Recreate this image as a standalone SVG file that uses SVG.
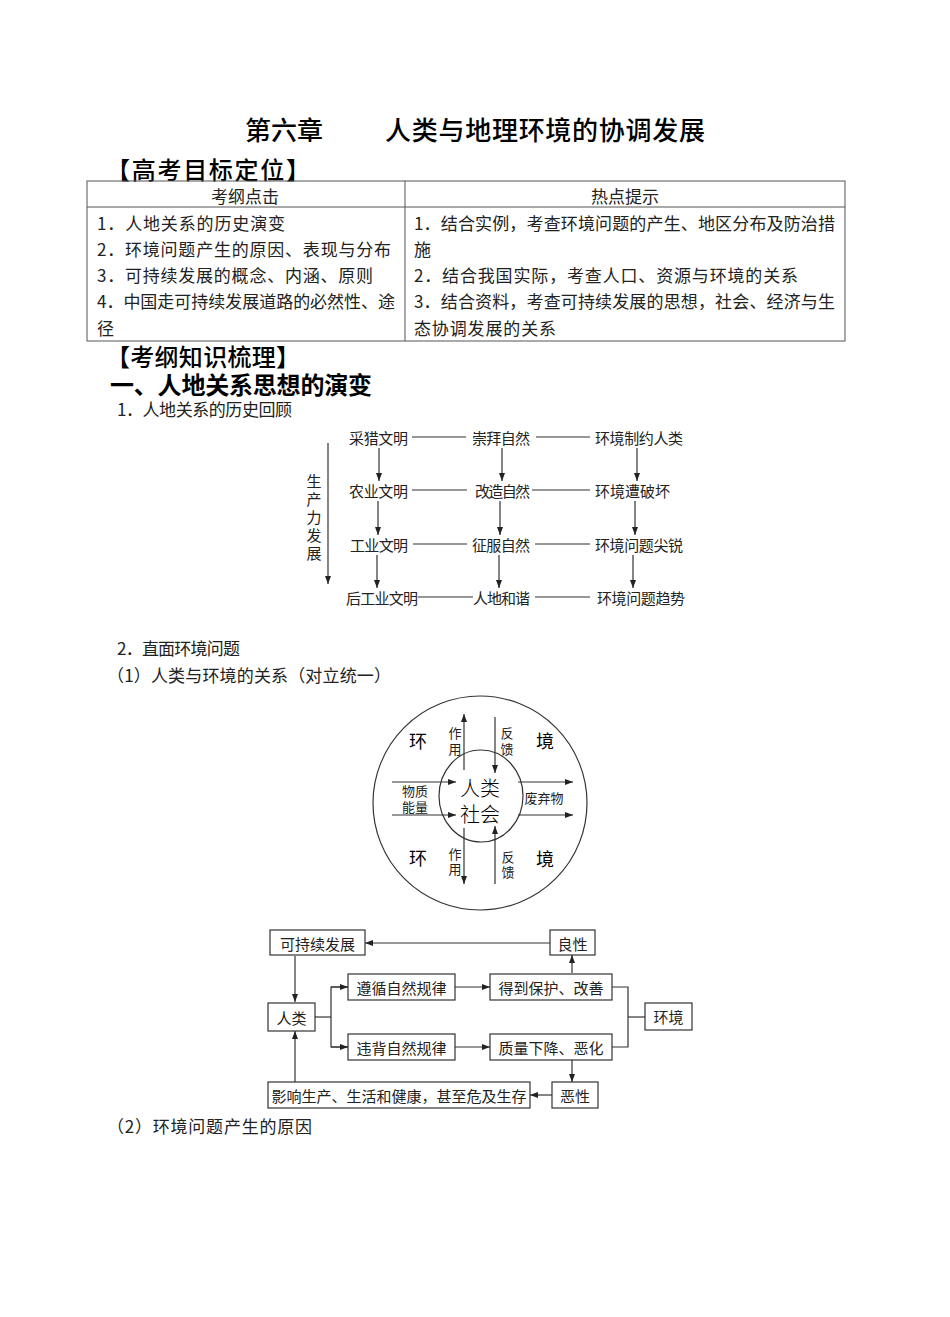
<svg xmlns="http://www.w3.org/2000/svg" width="950" height="1317" viewBox="0 0 950 1317">
<defs>
<style>
.h{font-family:"Noto Sans CJK SC","Liberation Sans",sans-serif;fill:#000}
.t{font-family:"Noto Sans CJK SC","Liberation Serif",serif;fill:#222;font-size:17px}
.d{font-family:"Noto Sans CJK SC","Liberation Sans",sans-serif;fill:#222;font-size:15px}
.s{font-family:"Noto Sans CJK SC","Liberation Sans",sans-serif;fill:#222;font-size:13px}
.ln{stroke:#333;stroke-width:1.2;fill:none}
.bx{stroke:#333;stroke-width:1.2;fill:#fff}
.tb{stroke:#555;stroke-width:1;fill:none}
</style>
<marker id="a" viewBox="0 0 8 6" refX="8" refY="3" markerWidth="8" markerHeight="6" markerUnits="userSpaceOnUse" orient="auto"><path d="M0,0 L8,3 L0,6 z" fill="#222"/></marker>
</defs>
<rect width="950" height="1317" fill="#fff"/>

<g id="title">
<text class="h" x="245" y="128" font-size="26" font-weight="500" dominant-baseline="central" textLength="78">第六章</text>
<text class="h" x="385" y="128" font-size="26" font-weight="500" dominant-baseline="central" textLength="320">人类与地理环境的协调发展</text>
<text class="h" x="106" y="168" font-size="24" font-weight="500" dominant-baseline="central" textLength="204">【高考目标定位】</text>
</g>

<g id="table">
<rect class="tb" x="87" y="181" width="758" height="160"/>
<line class="tb" x1="87" y1="207" x2="845" y2="207"/>
<line class="tb" x1="405" y1="181" x2="405" y2="341"/>
<text class="t" x="245" y="195" text-anchor="middle" dominant-baseline="central">考纲点击</text>
<text class="t" x="625" y="195" text-anchor="middle" dominant-baseline="central">热点提示</text>
<text class="t" x="97" y="222" dominant-baseline="central" textLength="188">1．人地关系的历史演变</text>
<text class="t" x="97" y="248" dominant-baseline="central" textLength="294">2．环境问题产生的原因、表现与分布</text>
<text class="t" x="97" y="274" dominant-baseline="central" textLength="276">3．可持续发展的概念、内涵、原则</text>
<text class="t" x="97" y="300" dominant-baseline="central" textLength="298">4．中国走可持续发展道路的必然性、途</text>
<text class="t" x="97" y="327" dominant-baseline="central">径</text>
<text class="t" x="414" y="222" dominant-baseline="central" textLength="421">1．结合实例，考查环境问题的产生、地区分布及防治措</text>
<text class="t" x="414" y="248" dominant-baseline="central">施</text>
<text class="t" x="414" y="274" dominant-baseline="central" textLength="384">2．结合我国实际，考查人口、资源与环境的关系</text>
<text class="t" x="414" y="300" dominant-baseline="central" textLength="421">3．结合资料，考查可持续发展的思想，社会、经济与生</text>
<text class="t" x="414" y="327" dominant-baseline="central" textLength="142">态协调发展的关系</text>
</g>

<g id="headings">
<text class="h" x="106" y="355" font-size="24" font-weight="500" dominant-baseline="central" textLength="194">【考纲知识梳理】</text>
<text class="h" x="110" y="383" font-size="24" font-weight="bold" dominant-baseline="central" textLength="262">一、人地关系思想的演变</text>
<text class="t" x="117" y="408" dominant-baseline="central" textLength="175">1．人地关系的历史回顾</text>
<text class="t" x="117" y="647" dominant-baseline="central" textLength="123">2．直面环境问题</text>
<text class="t" x="107" y="674" dominant-baseline="central" textLength="284">（1）人类与环境的关系（对立统一）</text>
<text class="t" x="107" y="1125" dominant-baseline="central" textLength="205">（2）环境问题产生的原因</text>
</g>

<g id="history-nodes">
<text class="d" x="349" y="437" dominant-baseline="central" textLength="59">采猎文明</text>
<text class="d" x="472" y="437" dominant-baseline="central" textLength="58">崇拜自然</text>
<text class="d" x="595" y="437" dominant-baseline="central" textLength="88">环境制约人类</text>
<text class="d" x="349" y="490" dominant-baseline="central" textLength="59">农业文明</text>
<text class="d" x="475" y="490" dominant-baseline="central" textLength="55">改造自然</text>
<text class="d" x="595" y="490" dominant-baseline="central" textLength="75">环境遭破坏</text>
<text class="d" x="350" y="544" dominant-baseline="central" textLength="58">工业文明</text>
<text class="d" x="472" y="544" dominant-baseline="central" textLength="58">征服自然</text>
<text class="d" x="595" y="544" dominant-baseline="central" textLength="88">环境问题尖锐</text>
<text class="d" x="346" y="597" dominant-baseline="central" textLength="72">后工业文明</text>
<text class="d" x="473" y="597" dominant-baseline="central" textLength="57">人地和谐</text>
<text class="d" x="597" y="597" dominant-baseline="central" textLength="88">环境问题趋势</text>
<g class="d" text-anchor="middle">
<text x="314" y="480" dominant-baseline="central">生</text>
<text x="314" y="498" dominant-baseline="central">产</text>
<text x="314" y="516" dominant-baseline="central">力</text>
<text x="314" y="534" dominant-baseline="central">发</text>
<text x="314" y="552" dominant-baseline="central">展</text>
</g>
</g>

<g id="history-connectors">
<line class="ln" x1="412" y1="437" x2="466" y2="437"/>
<line class="ln" x1="536" y1="437" x2="590" y2="437"/>
<line class="ln" x1="412" y1="490" x2="467" y2="490"/>
<line class="ln" x1="532" y1="490" x2="590" y2="490"/>
<line class="ln" x1="413" y1="544" x2="467" y2="544"/>
<line class="ln" x1="535" y1="544" x2="590" y2="544"/>
<line class="ln" x1="418" y1="597" x2="473" y2="597"/>
<line class="ln" x1="535" y1="597" x2="590" y2="597"/>
<line class="ln" x1="379" y1="448" x2="379" y2="481" marker-end="url(#a)"/>
<line class="ln" x1="502" y1="448" x2="502" y2="481" marker-end="url(#a)"/>
<line class="ln" x1="637" y1="448" x2="637" y2="481" marker-end="url(#a)"/>
<line class="ln" x1="378" y1="501" x2="378" y2="535" marker-end="url(#a)"/>
<line class="ln" x1="500" y1="501" x2="500" y2="535" marker-end="url(#a)"/>
<line class="ln" x1="635" y1="501" x2="635" y2="535" marker-end="url(#a)"/>
<line class="ln" x1="377" y1="555" x2="377" y2="588" marker-end="url(#a)"/>
<line class="ln" x1="499" y1="555" x2="499" y2="588" marker-end="url(#a)"/>
<line class="ln" x1="633" y1="555" x2="633" y2="588" marker-end="url(#a)"/>
<line class="ln" x1="328" y1="443" x2="328" y2="584" marker-end="url(#a)"/>
</g>

<g id="circle-diagram">
<circle class="ln" cx="480" cy="803" r="107"/>
<ellipse class="ln" cx="481" cy="796" rx="42" ry="46"/>
<text class="h" x="418" y="740" font-size="18" text-anchor="middle" dominant-baseline="central">环</text>
<text class="h" x="545" y="740" font-size="18" text-anchor="middle" dominant-baseline="central">境</text>
<text class="h" x="418" y="857" font-size="18" text-anchor="middle" dominant-baseline="central">环</text>
<text class="h" x="545" y="858" font-size="18" text-anchor="middle" dominant-baseline="central">境</text>
<text class="h" x="480" y="787" font-size="20" font-weight="300" text-anchor="middle" dominant-baseline="central">人类</text>
<text class="h" x="480" y="813" font-size="20" font-weight="300" text-anchor="middle" dominant-baseline="central">社会</text>
<text class="s" x="415" y="790" text-anchor="middle" dominant-baseline="central">物质</text>
<text class="s" x="415" y="806" text-anchor="middle" dominant-baseline="central">能量</text>
<text class="s" x="544" y="797" text-anchor="middle" dominant-baseline="central">废弃物</text>
<text class="s" x="455" y="732" text-anchor="middle" dominant-baseline="central">作</text>
<text class="s" x="455" y="748" text-anchor="middle" dominant-baseline="central">用</text>
<text class="s" x="507" y="732" text-anchor="middle" dominant-baseline="central">反</text>
<text class="s" x="507" y="748" text-anchor="middle" dominant-baseline="central">馈</text>
<text class="s" x="455" y="853" text-anchor="middle" dominant-baseline="central">作</text>
<text class="s" x="455" y="868" text-anchor="middle" dominant-baseline="central">用</text>
<text class="s" x="508" y="856" text-anchor="middle" dominant-baseline="central">反</text>
<text class="s" x="508" y="871" text-anchor="middle" dominant-baseline="central">馈</text>
</g>

<g id="circle-connectors">
<line class="ln" x1="464" y1="770" x2="464" y2="714" marker-end="url(#a)"/>
<line class="ln" x1="464" y1="828" x2="464" y2="884" marker-end="url(#a)"/>
<line class="ln" x1="495" y1="717" x2="495" y2="773" marker-end="url(#a)"/>
<line class="ln" x1="495" y1="884" x2="495" y2="826" marker-end="url(#a)"/>
<line class="ln" x1="392" y1="782" x2="456" y2="782" marker-end="url(#a)"/>
<line class="ln" x1="392" y1="815" x2="456" y2="815" marker-end="url(#a)"/>
<line class="ln" x1="518" y1="782" x2="573" y2="782" marker-end="url(#a)"/>
<line class="ln" x1="518" y1="815" x2="573" y2="815" marker-end="url(#a)"/>
</g>

<g id="flow-connectors">
<line class="ln" x1="550" y1="943" x2="365" y2="943" marker-end="url(#a)"/>
<line class="ln" x1="295" y1="956" x2="295" y2="1002" marker-end="url(#a)"/>
<line class="ln" x1="572" y1="973" x2="572" y2="955" marker-end="url(#a)"/>
<line class="ln" x1="455" y1="987" x2="490" y2="987" marker-end="url(#a)"/>
<line class="ln" x1="455" y1="1047" x2="490" y2="1047" marker-end="url(#a)"/>
<polyline class="ln" points="315,1017 331,1017"/>
<polyline class="ln" points="348,987 331,987 331,1047 348,1047"/>
<line class="ln" x1="331" y1="987" x2="348" y2="987" marker-end="url(#a)"/>
<line class="ln" x1="331" y1="1047" x2="348" y2="1047" marker-end="url(#a)"/>
<polyline class="ln" points="612,987 628,987 628,1047 612,1047"/>
<line class="ln" x1="628" y1="1017" x2="645" y2="1017"/>
<line class="ln" x1="572" y1="1060" x2="572" y2="1082" marker-end="url(#a)"/>
<line class="ln" x1="552" y1="1095" x2="530" y2="1095" marker-end="url(#a)"/>
<line class="ln" x1="295" y1="1082" x2="295" y2="1031" marker-end="url(#a)"/>
</g>

<g id="n-sustain"><rect class="bx" x="270" y="930" width="95" height="25"/><text class="d" x="317.5" y="943" text-anchor="middle" dominant-baseline="central">可持续发展</text></g>
<g id="n-good"><rect class="bx" x="550" y="930" width="45" height="25"/><text class="d" x="572.5" y="943" text-anchor="middle" dominant-baseline="central">良性</text></g>
<g id="n-follow"><rect class="bx" x="348" y="974" width="107" height="26"/><text class="d" x="401.5" y="987" text-anchor="middle" dominant-baseline="central">遵循自然规律</text></g>
<g id="n-protect"><rect class="bx" x="490" y="974" width="122" height="26"/><text class="d" x="551" y="987" text-anchor="middle" dominant-baseline="central">得到保护、改善</text></g>
<g id="n-human"><rect class="bx" x="268" y="1003" width="47" height="28"/><text class="d" x="291.5" y="1017" text-anchor="middle" dominant-baseline="central">人类</text></g>
<g id="n-env"><rect class="bx" x="645" y="1003" width="47" height="27"/><text class="d" x="668.5" y="1016.5" text-anchor="middle" dominant-baseline="central">环境</text></g>
<g id="n-violate"><rect class="bx" x="348" y="1034" width="107" height="26"/><text class="d" x="401.5" y="1047" text-anchor="middle" dominant-baseline="central">违背自然规律</text></g>
<g id="n-decline"><rect class="bx" x="490" y="1034" width="122" height="26"/><text class="d" x="551" y="1047" text-anchor="middle" dominant-baseline="central">质量下降、恶化</text></g>
<g id="n-bad"><rect class="bx" x="552" y="1082" width="46" height="26"/><text class="d" x="575" y="1095" text-anchor="middle" dominant-baseline="central">恶性</text></g>
<g id="n-impact"><rect class="bx" x="268" y="1082" width="262" height="26"/><text class="d" x="399" y="1095" text-anchor="middle" dominant-baseline="central">影响生产、生活和健康，甚至危及生存</text></g>
</svg>
